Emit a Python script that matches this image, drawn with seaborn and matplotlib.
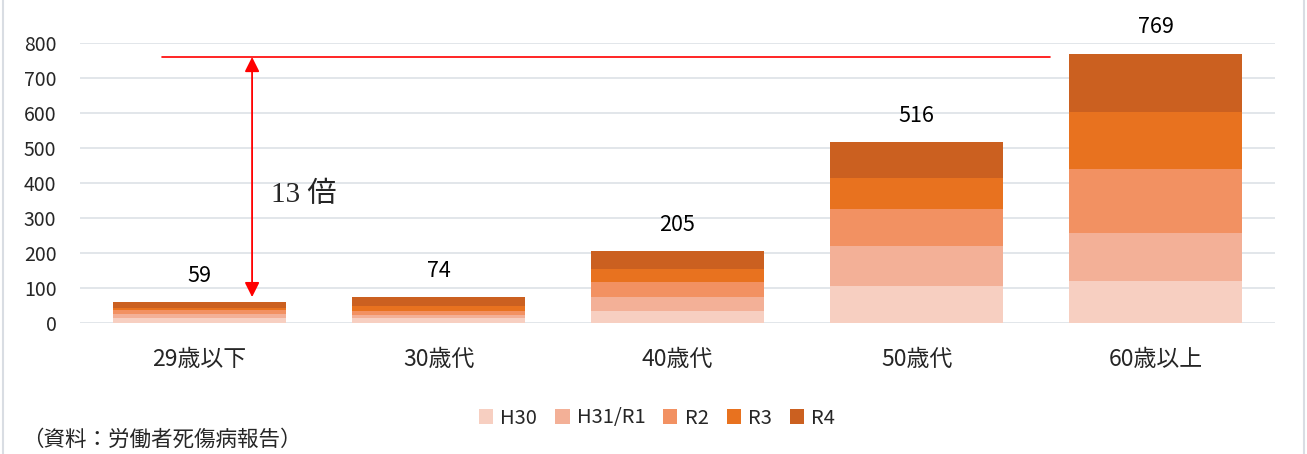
"""Stacked bars of occupational accidents by age group (H30-R4)."""

import numpy as np
import pandas as pd
import matplotlib
matplotlib.use("Agg")
import matplotlib.pyplot as plt
import seaborn as sns
from matplotlib.patches import Patch, Rectangle

ages = ["29歳以下", "30歳代", "40歳代", "50歳代", "60歳以上"]
years = ["H30", "H31/R1", "R2", "R3", "R4"]
h30 = [14, 13, 34, 106, 120]
h31_r1 = [12, 10, 40, 114, 137]
r2 = [10, 11, 43, 106, 183]
r3 = [8, 14, 37, 88, 163]
r4 = [15, 26, 51, 102, 166]
totals = [59, 74, 205, 516, 769]
colors = ["#F7CFC1", "#F3B097", "#F29162", "#E8721F", "#CB6020"]

ref_level = 760
ratio_text = "13 倍"
source_text = "（資料：労働者死傷病報告）"

sns.set_theme(style="white")
plt.rcParams["font.family"] = ["Noto Sans CJK JP", "DejaVu Sans"]

fig = plt.figure(figsize=(13.07, 4.54), dpi=100)
ax = fig.add_axes([80 / 1307, 131 / 454, 1195 / 1307, 280 / 454])

df = pd.DataFrame({"age": ages, "H30": h30, "H31/R1": h31_r1,
                   "R2": r2, "R3": r3, "R4": r4})

bottom = np.zeros(len(ages))
for name, col in zip(years, colors):
    sns.barplot(data=df, x="age", y=name, order=ages, color=col,
                width=0.72, bottom=bottom, ax=ax, saturation=1,
                edgecolor="none", linewidth=0, zorder=3)
    bottom = bottom + df[name].values

# totals above bars
for i, t in enumerate(totals):
    ax.annotate(str(t), (i, t), xytext=(0, 19), textcoords="offset points",
                ha="center", va="center", fontsize=15.5, color="#000000",
                annotation_clip=False)

ax.set_xlim(-0.5, 4.5)
ax.set_ylim(0, 800)
ax.set_yticks(range(0, 801, 100))
ax.grid(axis="y", color="#DDE1E6", linewidth=1.2, zorder=0)
ax.grid(axis="x", visible=False)
for s in ax.spines.values():
    s.set_visible(False)
ax.set_xlabel("")
ax.set_ylabel("")
ax.tick_params(axis="y", length=0, pad=17, labelsize=14)
ax.tick_params(axis="x", length=0, pad=18, labelsize=16.5)

# reference line and arrow
ax.plot([-0.157, 3.56], [ref_level, ref_level], color="#FF0000",
        linewidth=1.2, zorder=4)
ax.annotate("", xy=(0.22, 74), xytext=(0.22, ref_level),
            arrowprops=dict(arrowstyle="<|-|>", color="#FF0000", lw=1.3,
                            mutation_scale=22, shrinkA=0, shrinkB=0),
            zorder=4)
ax.text(0.30, 366, ratio_text, fontsize=21, va="center", ha="left",
        family=["Liberation Serif", "Noto Sans CJK JP"])

handles = [Patch(facecolor=c, edgecolor="none", label=y)
           for y, c in zip(years, colors)]
fig.legend(handles=handles, loc="center", bbox_to_anchor=(657 / 1307, 1 - 418 / 454),
           ncol=5, frameon=False, fontsize=14.5, handlelength=0.7,
           handleheight=0.7, handletextpad=0.35, columnspacing=0.9)

fig.text(22 / 1307, 1 - 440 / 454, source_text, fontsize=15.5,
         ha="left", va="center")

fig.patches.append(Rectangle((0.002, -0.01), 0.996, 1.02, transform=fig.transFigure,
                             fill=False, edgecolor="#D9DDE3", linewidth=1.5))

fig.savefig("out.png", dpi=100)
